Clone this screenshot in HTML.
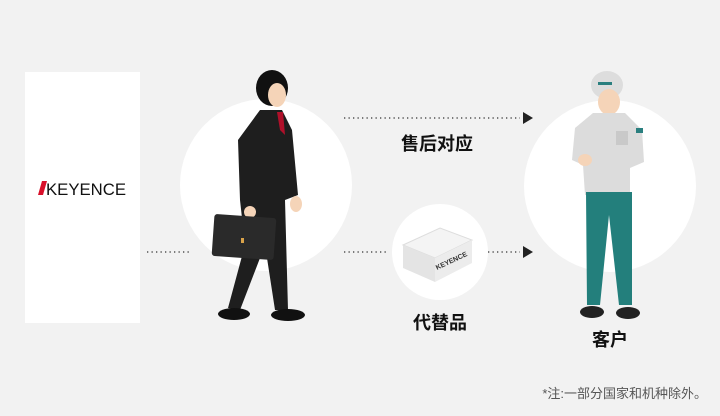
<!DOCTYPE html>
<html><head><meta charset="utf-8"><style>
body{margin:0;background:#f2f2f2}
svg{display:block}
text{font-family:"Liberation Sans","Noto Sans CJK SC",sans-serif}
</style></head><body>
<svg width="720" height="416" viewBox="0 0 720 416">
<rect width="720" height="416" fill="#f2f2f2"/>
<rect x="25" y="72" width="115" height="251" fill="#fff"/>
<polygon points="42,181 47,181 43,195 38,195" fill="#d8102a"/>
<text x="46" y="195" font-size="17" fill="#111" textLength="80" lengthAdjust="spacingAndGlyphs">KEYENCE</text>
<circle cx="266" cy="185" r="86" fill="#fff"/>
<circle cx="610" cy="186" r="86" fill="#fff"/>
<circle cx="440" cy="252" r="48" fill="#fff"/>
<g stroke="#333" stroke-width="1.3" stroke-dasharray="1.3 3.2">
<line x1="147" y1="252" x2="192" y2="252"/>
<line x1="344" y1="118" x2="520" y2="118"/>
<line x1="344" y1="252" x2="388" y2="252"/>
<line x1="488" y1="252" x2="520" y2="252"/>
</g>
<polygon points="523,112 533,118 523,124" fill="#222"/>
<polygon points="523,246 533,252 523,258" fill="#222"/>
<text x="437" y="150" font-size="18" font-weight="bold" text-anchor="middle" fill="#111">售后对应</text>
<text x="440" y="329" font-size="18" font-weight="bold" text-anchor="middle" fill="#111">代替品</text>
<text x="610" y="346" font-size="18" font-weight="bold" text-anchor="middle" fill="#111">客户</text>
<text x="707" y="398" font-size="13" text-anchor="end" fill="#555">*注:一部分国家和机种除外。</text>
<!-- box -->
<polygon points="403,245 440,228 472,240 435,258" fill="#f4f4f4" stroke="#ddd"/>
<polygon points="403,245 435,258 435,282 403,268" fill="#e4e4e4"/>
<polygon points="435,258 472,240 472,263 435,282" fill="#ececec"/>
<text x="437" y="270" font-size="7" font-weight="bold" fill="#333" transform="rotate(-25 437 270)">KEYENCE</text>
<!-- businessman -->
<ellipse cx="272" cy="88" rx="16" ry="18" fill="#111"/>
<ellipse cx="277" cy="95" rx="9" ry="12" fill="#f5d4b8"/>
<path d="M260,110 L282,110 L292,130 L298,195 L285,200 L288,310 L275,310 L265,245 L240,310 L228,308 L245,245 L240,200 L238,140 Z" fill="#1e1e1e"/>
<polygon points="277,112 283,112 285,135 280,130" fill="#b0102a"/>
<ellipse cx="296" cy="204" rx="6" ry="8" fill="#f5d4b8"/>
<ellipse cx="250" cy="212" rx="6" ry="6" fill="#f5d4b8"/>
<rect x="213" y="216" width="62" height="42" rx="3" fill="#2a2a2a" transform="rotate(4 244 237)"/>
<rect x="241" y="238" width="3" height="5" fill="#d9a34a"/>
<ellipse cx="234" cy="314" rx="16" ry="6" fill="#111"/>
<ellipse cx="288" cy="315" rx="17" ry="6" fill="#111"/>
<!-- worker -->
<ellipse cx="607" cy="85" rx="16" ry="14" fill="#ddd"/>
<rect x="598" y="82" width="14" height="3" fill="#2a7f7f"/>
<ellipse cx="609" cy="102" rx="11" ry="13" fill="#f5d4b8"/>
<path d="M593,113 L625,113 L642,130 L644,162 L630,168 L630,195 L585,195 L583,165 L572,160 L575,128 Z" fill="#dcdcdc"/>
<rect x="616" y="131" width="12" height="14" fill="#c9c9c9"/>
<rect x="636" y="128" width="7" height="5" fill="#2a7f7f"/>
<ellipse cx="585" cy="160" rx="7" ry="6" fill="#f5d4b8"/>
<path d="M586,192 L632,192 L632,305 L619,305 L609,215 L600,305 L587,305 Z" fill="#237f7c"/>
<ellipse cx="592" cy="312" rx="12" ry="6" fill="#222"/>
<ellipse cx="628" cy="313" rx="12" ry="6" fill="#222"/>
</svg>
</body></html>
